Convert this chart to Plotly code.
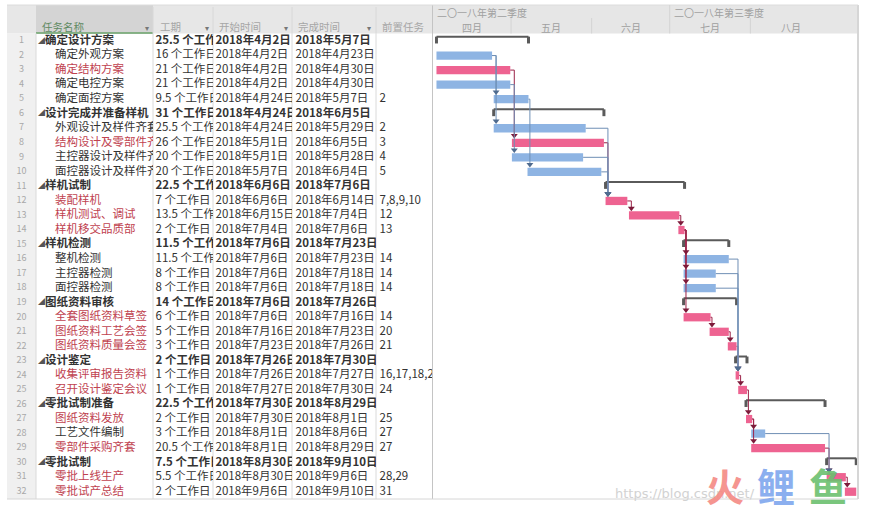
import plotly.graph_objects as go
import pandas as pd

W, H = 872, 511

# ---------------- data ----------------
names = ["确定设计方案", "确定外观方案", "确定结构方案", "确定电控方案", "确定面控方案",
         "设计完成并准备样机", "外观设计及样件齐套", "结构设计及零部件齐套", "主控器设计及样件齐套", "面控器设计及样件齐套",
         "样机试制", "装配样机", "样机测试、调试", "样机移交品质部",
         "样机检测", "整机检测", "主控器检测", "面控器检测",
         "图纸资料审核", "全套图纸资料草签", "图纸资料工艺会签", "图纸资料质量会签",
         "设计鉴定", "收集评审报告资料", "召开设计鉴定会议",
         "零批试制准备", "图纸资料发放", "工艺文件编制", "零部件采购齐套",
         "零批试制", "零批上线生产", "零批试产总结"]
durations = [25.5, 16, 21, 21, 9.5, 31, 25.5, 26, 20, 20, 22.5, 7, 13.5, 2, 11.5, 11.5, 8, 8,
             14, 6, 5, 3, 2, 1, 1, 22.5, 2, 3, 20.5, 7.5, 5.5, 2]
starts = ["2018-04-02", "2018-04-02", "2018-04-02", "2018-04-02", "2018-04-24",
          "2018-04-24", "2018-04-24", "2018-05-01", "2018-05-01", "2018-05-07",
          "2018-06-06", "2018-06-06", "2018-06-15", "2018-07-04",
          "2018-07-06", "2018-07-06", "2018-07-06", "2018-07-06",
          "2018-07-06", "2018-07-06", "2018-07-16", "2018-07-23",
          "2018-07-26", "2018-07-26", "2018-07-27",
          "2018-07-30", "2018-07-30", "2018-08-01", "2018-08-01",
          "2018-08-30", "2018-08-30", "2018-09-06"]
finishes = ["2018-05-07", "2018-04-23", "2018-04-30", "2018-04-30", "2018-05-07",
            "2018-06-05", "2018-05-29", "2018-06-05", "2018-05-28", "2018-06-04",
            "2018-07-06", "2018-06-14", "2018-07-04", "2018-07-06",
            "2018-07-23", "2018-07-23", "2018-07-18", "2018-07-18",
            "2018-07-26", "2018-07-16", "2018-07-23", "2018-07-26",
            "2018-07-30", "2018-07-27", "2018-07-30",
            "2018-08-29", "2018-08-01", "2018-08-06", "2018-08-29",
            "2018-09-10", "2018-09-06", "2018-09-10"]
predecessors = ["", "", "", "", "2", "", "2", "3", "4", "5", "", "7,8,9,10", "12", "13",
                "", "14", "14", "14", "", "14", "20", "21", "", "16,17,18,22", "24",
                "", "25", "27", "27", "", "28,29", "31"]
summary_rows = [1, 6, 11, 15, 19, 23, 26, 30]
critical_rows = [3, 8, 12, 13, 14, 20, 21, 22, 24, 25, 27, 29, 31, 32]

col_headers = ["任务名称", "工期", "开始时间", "完成时间", "前置任务"]
quarter_labels = ["二〇一八年第二季度", "二〇一八年第三季度"]
quarter_starts = ["2018-04-01", "2018-07-01"]
month_labels = ["四月", "五月", "六月", "七月", "八月"]
month_starts = ["2018-04-01", "2018-05-01", "2018-06-01", "2018-07-01", "2018-08-01", "2018-09-01"]

# ---------------- style ----------------
FONT = "Noto Sans CJK SC"
TXT = "#333333"
RED_TXT = "#c0424f"
BLUE = "#8eb4e3"
PINK = "#ee6391"
LINK_BLUE = "#6f8fb5"
LINK_RED = "#9b2348"
ARROW_BLUE = "#4f6b8f"
ARROW_RED = "#7d1a3a"
FS = 11.5

rows = list(range(1, len(names) + 1))
n = len(rows)
is_sum = [r in summary_rows for r in rows]
is_crit = [r in critical_rows for r in rows]

# y mapping (rows in data units, 14.54 px per row, row 1 centred at 41 px)
U = 14.54
y_top = 1 - 41 / U
y_bot = 1 + (H - 41) / U


def px(x):
    return x / W


def py(y):
    return 1 - y / H


# table columns (pixel extents)
cols = [(7, 36), (36, 153), (153, 213), (213, 292), (292, 376), (376, 432)]
G0, G1 = 433, 857

fig = go.Figure()


def fmt_date(s):
    t = pd.Timestamp(s)
    return f"{t.year}年{t.month}月{t.day}日"


def bold(s, b):
    return f"<b>{s}</b>" if b else s


# row numbers
fig.add_trace(go.Scatter(x=[14.5] * n, y=rows, mode="text", text=[str(r) for r in rows],
                         textposition="middle center", cliponaxis=True, xaxis="x", yaxis="y",
                         textfont=dict(family=FONT, size=9, color="#a8a8a8"), hoverinfo="skip"))
# summary triangles
fig.add_trace(go.Scatter(x=[2] * len(summary_rows), y=summary_rows, mode="text",
                         text=["◢"] * len(summary_rows), textposition="middle right", cliponaxis=True,
                         xaxis="x2", yaxis="y", textfont=dict(family=FONT, size=7, color="#555555"),
                         hoverinfo="skip"))
# task names
fig.add_trace(go.Scatter(x=[9 if s else 19 for s in is_sum], y=rows, mode="text",
                         text=[bold(nm, s) for nm, s in zip(names, is_sum)],
                         textposition="middle right", cliponaxis=True, xaxis="x2", yaxis="y",
                         textfont=dict(family=FONT, size=FS,
                                       color=[RED_TXT if c else TXT for c in is_crit]),
                         hoverinfo="skip"))
# durations
fig.add_trace(go.Scatter(x=[2.5] * n, y=rows, mode="text",
                         text=[bold(f"{d:g} 个工作日", s) for d, s in zip(durations, is_sum)],
                         textposition="middle right", cliponaxis=True, xaxis="x3", yaxis="y",
                         textfont=dict(family=FONT, size=FS, color=TXT), hoverinfo="skip"))
# start
fig.add_trace(go.Scatter(x=[2.5] * n, y=rows, mode="text",
                         text=[bold(fmt_date(d), s) for d, s in zip(starts, is_sum)],
                         textposition="middle right", cliponaxis=True, xaxis="x4", yaxis="y",
                         textfont=dict(family=FONT, size=FS, color=TXT), hoverinfo="skip"))
# finish
fig.add_trace(go.Scatter(x=[3.5] * n, y=rows, mode="text",
                         text=[bold(fmt_date(d), s) for d, s in zip(finishes, is_sum)],
                         textposition="middle right", cliponaxis=True, xaxis="x5", yaxis="y",
                         textfont=dict(family=FONT, size=FS, color=TXT), hoverinfo="skip"))
# predecessors
fig.add_trace(go.Scatter(x=[3.5] * n, y=rows, mode="text", text=predecessors,
                         textposition="middle right", cliponaxis=True, xaxis="x6", yaxis="y",
                         textfont=dict(family=FONT, size=FS, color=TXT), hoverinfo="skip"))

# ---------------- gantt ----------------
st = [pd.Timestamp(s) + pd.Timedelta(hours=8) for s in starts]
fi = [pd.Timestamp(f) + pd.Timedelta(hours=17) for f in finishes]

for color, crit in ((BLUE, False), (PINK, True)):
    idx = [i for i in range(n) if not is_sum[i] and is_crit[i] == crit]
    fig.add_trace(go.Bar(orientation="h", xaxis="x7", yaxis="y",
                         y=[rows[i] for i in idx],
                         base=[st[i].strftime("%Y-%m-%d %H:%M") for i in idx],
                         x=[(fi[i] - st[i]).total_seconds() * 1000 for i in idx],
                         width=0.57, marker=dict(color=color, line=dict(width=0)),
                         hoverinfo="skip"))

# summary brackets
bx, by, tx, ty = [], [], [], []
for r in summary_rows:
    i = r - 1
    a, b = st[i].strftime("%Y-%m-%d %H:%M"), fi[i].strftime("%Y-%m-%d %H:%M")
    bx += [a, b, None]
    by += [r - 0.3, r - 0.3, None]
    tx += [a, a, None, b, b, None]
    ty += [r - 0.3, r + 0.17, None, r - 0.3, r + 0.17, None]
fig.add_trace(go.Scatter(x=bx, y=by, mode="lines", xaxis="x7", yaxis="y",
                         line=dict(color="#5a5a5a", width=2), hoverinfo="skip"))
fig.add_trace(go.Scatter(x=tx, y=ty, mode="lines", xaxis="x7", yaxis="y",
                         line=dict(color="#5a5a5a", width=3), hoverinfo="skip"))

# dependency links
links = {True: ([], [], [], []), False: ([], [], [], [])}
for i, p in enumerate(predecessors):
    if not p:
        continue
    for q in p.split(","):
        j = int(q) - 1
        xv = max(st[i] + pd.Timedelta(hours=22), fi[j] + pd.Timedelta(hours=12))
        lx, ly, ax, ay = links[is_crit[j]]
        e = fi[j].strftime("%Y-%m-%d %H:%M")
        v = xv.strftime("%Y-%m-%d %H:%M")
        lx += [e, v, v, None]
        ly += [rows[j], rows[j], rows[i] - 0.42, None]
        ax.append(v)
        ay.append(rows[i] - 0.5)
for crit, (lx, ly, ax, ay) in links.items():
    fig.add_trace(go.Scatter(x=lx, y=ly, mode="lines", xaxis="x7", yaxis="y",
                             line=dict(color=LINK_RED if crit else LINK_BLUE, width=1),
                             hoverinfo="skip"))
    fig.add_trace(go.Scatter(x=ax, y=ay, mode="markers", xaxis="x7", yaxis="y",
                             marker=dict(symbol="triangle-down", size=6,
                                         color=ARROW_RED if crit else ARROW_BLUE),
                             hoverinfo="skip"))

# ---------------- shapes (frame / headers) ----------------
shapes = []


def rect(x0, y0, x1, y1, fill):
    shapes.append(dict(type="rect", xref="paper", yref="paper", x0=px(x0), x1=px(x1),
                       y0=py(y0), y1=py(y1), fillcolor=fill, line=dict(width=0), layer="below"))


def line(x0, y0, x1, y1, color, width=1, layer="below"):
    shapes.append(dict(type="line", xref="paper", yref="paper", x0=px(x0), x1=px(x1),
                       y0=py(y0), y1=py(y1), line=dict(color=color, width=width), layer=layer))


HT, HB, BB = 5, 33.5, 499
rect(7, HT, 432, HB, "#e7e7e7")
rect(36, HT, 153, HB, "#d4d4d4")
line(36, HB - 0.5, 153, HB - 0.5, "#6aa36a", 1.5)
rect(7, HB, 36, BB, "#f0f0f0")
for x in (36, 153, 213, 292, 376):
    line(x, HB, x, BB, "#dadada")
for x in (153, 213, 292, 376):
    line(x, HT + 2, x, HB, "#d8d8d8")
line(432.5, HT, 432.5, BB, "#c4c4c4")
rect(G0, HT, G1, HB, "#e6e6e6")
line(G1 + 1, HT, G1 + 1, BB, "#c8c8c8", 1.5)
line(7, BB, G1 + 1, BB, "#d6d6d6")
line(7, HT, G1 + 1, HT, "#dcdcdc")

# timescale separators
for m in month_starts[1:-1]:
    full = m in quarter_starts
    shapes.append(dict(type="line", xref="x7", yref="paper", x0=m, x1=m,
                       y0=py(HB), y1=py(HT if full else 18), line=dict(color="#d4d4d4", width=1),
                       layer="below"))

annotations = []
hdr_x = [40, 158, 217, 296, 380]
for t, x in zip(col_headers, hdr_x):
    annotations.append(dict(text=t, x=px(x), y=py(26), xref="paper", yref="paper",
                            xanchor="left", yanchor="middle", showarrow=False,
                            font=dict(family=FONT, size=10.5,
                                      color="#5f8a62" if t == col_headers[0] else "#a6a6a6")))
for x in (147, 207, 286, 369):
    annotations.append(dict(text="▾", x=px(x), y=py(27), xref="paper", yref="paper",
                            xanchor="center", yanchor="middle", showarrow=False,
                            font=dict(family=FONT, size=8, color="#777777")))
for t, d in zip(quarter_labels, quarter_starts):
    annotations.append(dict(text=t, x=(pd.Timestamp(d) + pd.Timedelta(hours=20)).strftime("%Y-%m-%d %H:%M"),
                            y=py(12), xref="x7", yref="paper", xanchor="left", yanchor="middle",
                            showarrow=False, font=dict(family=FONT, size=10, color="#a0a0a0")))
for t, a, b in zip(month_labels, month_starts[:-1], month_starts[1:]):
    mid = pd.Timestamp(a) + (pd.Timestamp(b) - pd.Timestamp(a)) / 2
    annotations.append(dict(text=t, x=mid.strftime("%Y-%m-%d %H:%M"), y=py(27), xref="x7",
                            yref="paper", xanchor="center", yanchor="middle", showarrow=False,
                            font=dict(family=FONT, size=10, color="#a0a0a0")))

# watermark
annotations.append(dict(text="https://blog.csdn.net/", x=px(613), y=py(493), xref="paper",
                        yref="paper", xanchor="left", yanchor="middle", showarrow=False,
                        font=dict(family="DejaVu Sans", size=13, color="#d2d2d2")))
for ch, x, c in (("火", 725, "#f58a84"), ("鲤", 776, "#7fa7ee"), ("鱼", 828, "#6cc070")):
    annotations.append(dict(text=f"<b>{ch}</b>", x=px(x), y=py(484), xref="paper", yref="paper",
                            xanchor="center", yanchor="middle", showarrow=False, opacity=0.9,
                            font=dict(family=FONT, size=38, color=c)))

# ---------------- axes ----------------
layout_axes = {}
for k, (a, b) in enumerate(cols, start=1):
    name = "xaxis" if k == 1 else f"xaxis{k}"
    layout_axes[name] = dict(domain=[px(a), px(b)], range=[0, b - a], visible=False,
                             fixedrange=True, anchor="y")
layout_axes["xaxis7"] = dict(domain=[px(G0), px(G1)], type="date",
                             range=["2018-04-01", "2018-09-11"], visible=False,
                             fixedrange=True, anchor="y")

fig.update_layout(
    width=W, height=H, margin=dict(l=0, r=0, t=0, b=0),
    paper_bgcolor="white", plot_bgcolor="rgba(0,0,0,0)",
    showlegend=False, barmode="overlay",
    yaxis=dict(domain=[0, 1], range=[y_bot, y_top], visible=False, fixedrange=True, anchor="x"),
    shapes=shapes, annotations=annotations,
    **layout_axes,
)

fig.write_html("out.html", config={"displayModeBar": False})
